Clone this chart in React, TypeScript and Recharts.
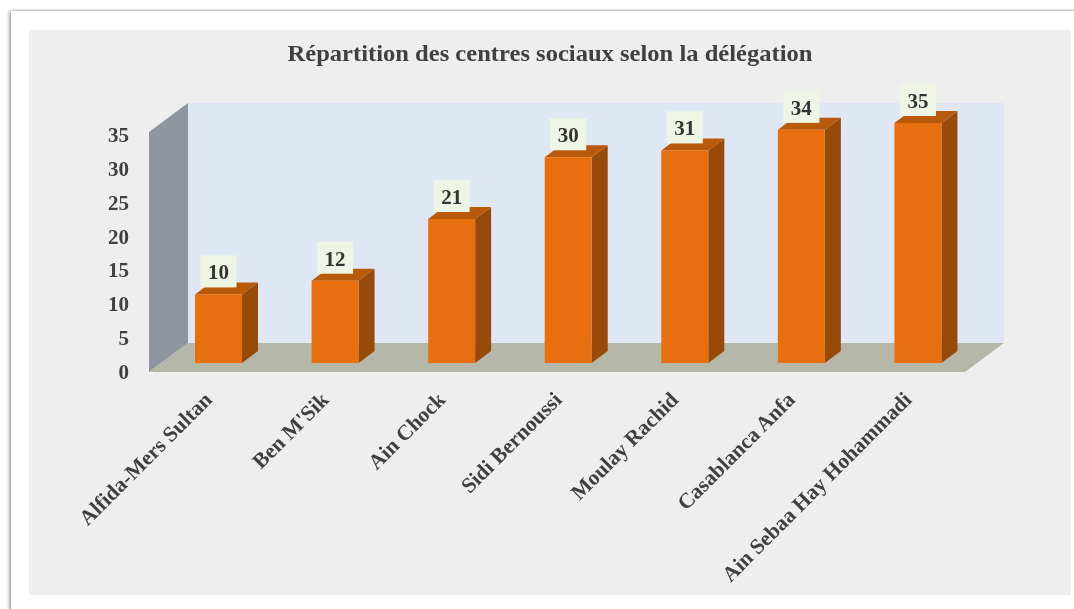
import React from "react";
import { BarChart, Bar, XAxis, YAxis, ReferenceArea, LabelList } from "recharts";

const categories = ["Alfida-Mers Sultan", "Ben M'Sik", "Ain Chock", "Sidi Bernoussi", "Moulay Rachid", "Casablanca Anfa", "Ain Sebaa Hay Hohammadi"];
const centres = [10, 12, 21, 30, 31, 34, 35];
const yTicks = [0, 5, 10, 15, 20, 25, 30, 35];
const rows = categories.map((name, i) => ({ name, centres: centres[i] }));

const SERIF = "'Liberation Serif', serif";
const TEXT = "#404040";
const WALL_DX = 39, WALL_DY = 29;
const BAR_OFF_X = 11, BAR_OFF_Y = 9;
const SIDE_DX = 16, SIDE_DY = 12;

const pts = (a: number[][]) => a.map((p) => p.join(",")).join(" ");

function Room(props: any) {
  const { x, y, width, height } = props;
  const r = x + width, b = y + height;
  return (
    <g>
      <polygon points={pts([[x + WALL_DX, y - WALL_DY], [r + WALL_DX, y - WALL_DY], [r + WALL_DX, b - WALL_DY], [x + WALL_DX, b - WALL_DY]])} fill="#E0E7F4" />
      <polygon points={pts([[x, y], [x + WALL_DX, y - WALL_DY], [x + WALL_DX, b - WALL_DY], [x, b]])} fill="#8F969F" />
      <polygon points={pts([[x, b], [x + WALL_DX, b - WALL_DY], [r + WALL_DX, b - WALL_DY], [r, b]])} fill="#B5B8A9" />
    </g>
  );
}

function Box3D(props: any) {
  const { x, y, width, height } = props;
  const l = x + BAR_OFF_X, t = y - BAR_OFF_Y, r = l + width, b = t + height;
  return (
    <g>
      <polygon points={pts([[r, t], [r + SIDE_DX, t - SIDE_DY], [r + SIDE_DX, b - SIDE_DY], [r, b]])} fill="#974A0A" />
      <polygon points={pts([[l, t], [l + SIDE_DX, t - SIDE_DY], [r + SIDE_DX, t - SIDE_DY], [r, t]])} fill="#B85A0A" />
      <rect x={l} y={t} width={width} height={height} fill="#E86F10" />
    </g>
  );
}

function ValueLabel(props: any) {
  const { x, y, width, value } = props;
  const cx = x + BAR_OFF_X + width / 2;
  const t = y - BAR_OFF_Y;
  return (
    <g>
      <rect x={cx - 18} y={t - 39} width={36} height={32} fill="#EFF5E4" />
      <text x={cx} y={t - 15} textAnchor="middle" fontFamily={SERIF} fontWeight="bold" fontSize={21} fill="#333333">{value}</text>
    </g>
  );
}

function CatTick(props: any) {
  const { x, y, payload } = props;
  const ax = x + 6, ay = y + 21;
  return (
    <text x={ax} y={ay} transform={`rotate(-45 ${ax} ${ay})`} textAnchor="end" fontFamily={SERIF} fontWeight="bold" fontSize={21.5} fill={TEXT}>
      {payload.value}
    </text>
  );
}

function ValueTick(props: any) {
  const { x, y, payload } = props;
  // The reference's tick labels sit on a slightly tighter pitch than its walls.
  const ty = y + (372 - y) * 0.0125 - 0.5;
  return (
    <text x={x} y={ty} dy="0.355em" textAnchor="end" fontFamily={SERIF} fontWeight="bold" fontSize={21} fill={TEXT}>
      {payload.value}
    </text>
  );
}

export default function App() {
  return (
    <div style={{ position: "absolute", left: 0, top: 0, width: 1074, height: 609, overflow: "hidden", background: "#fff" }}>
      <div style={{ position: "absolute", left: 11, top: 11, width: 1100, height: 640, background: "#fff", boxShadow: "-2px 0 3px rgba(0,0,0,0.32), 0 -1px 2px rgba(0,0,0,0.12)" }} />
      <div style={{ position: "absolute", left: 29, top: 30, width: 1042, height: 565, background: "#EEEEEE" }} />
      <div style={{ position: "absolute", left: 0, top: 0, filter: "blur(0.6px)" }}>
        <BarChart width={1074} height={609} data={rows} margin={{ top: 132, right: 109, bottom: 137, left: 100 }} barCategoryGap={0}>
          <text x={550} y={61} textAnchor="middle" textLength={525} lengthAdjust="spacingAndGlyphs" fontFamily={SERIF} fontWeight="bold" fontSize={23} fill={TEXT}>
            Répartition des centres sociaux selon la délégation
          </text>
          <XAxis dataKey="name" interval={0} height={100} axisLine={false} tickLine={false} tick={CatTick} />
          <YAxis width={49} domain={[0, 35]} ticks={yTicks} axisLine={false} tickLine={false} tickSize={0} tickMargin={20} tick={ValueTick} />
          <ReferenceArea y1={0} y2={35} shape={Room} ifOverflow="visible" />
          <Bar dataKey="centres" barSize={47} shape={Box3D} isAnimationActive={false}>
            <LabelList dataKey="centres" content={ValueLabel} />
          </Bar>
        </BarChart>
      </div>
    </div>
  );
}
